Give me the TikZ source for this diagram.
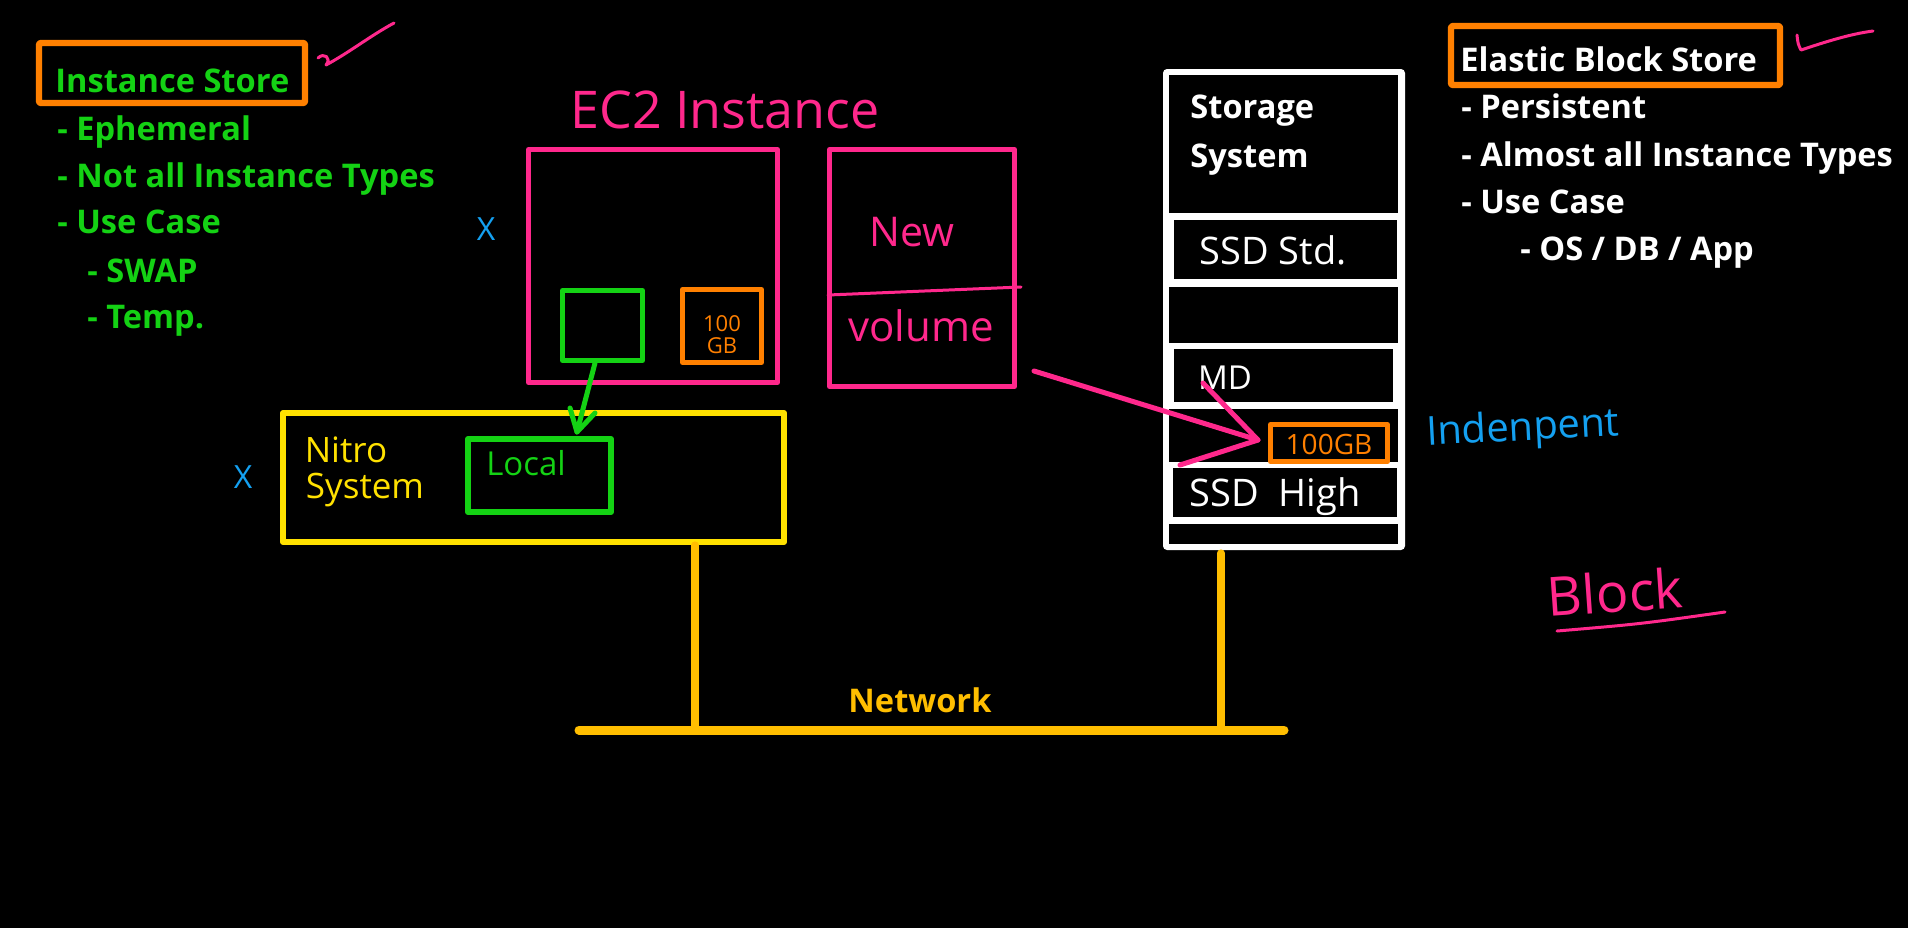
\documentclass[tikz,border=0pt]{standalone}
\usepackage{fontspec}
\setmainfont{Open Sans}
\newfontfamily\prt{Open Sans}
\newfontfamily\hnd{Open Sans}
\usetikzlibrary{fit}
\definecolor{cgreen}{RGB}{20,210,20}
\definecolor{corange}{RGB}{255,128,0}
\definecolor{cpink}{RGB}{255,40,140}
\definecolor{cyellow}{RGB}{255,225,0}
\definecolor{cgold}{RGB}{255,190,0}
\definecolor{cblue}{RGB}{20,160,240}
\begin{document}
\begin{tikzpicture}[x=0.5pt,y=-0.5pt,
  txt/.style={anchor=base west, inner sep=0, font={\prt\bfseries\fontsize{16.3pt}{20pt}\selectfont}},
  hand/.style={inner sep=0, font={\hnd\fontsize{#1}{#1}\selectfont}},
  hand/.default=18pt,
  frame/.style={inner sep=0, draw, line join=round},
  pen/.style={line width=2.5pt, line cap=round, line join=round},
  thinpen/.style={line width=1.5pt, line cap=round, line join=round},
  netline/.style={draw=cgold, line cap=round}
]
\path[use as bounding box, fill=black] (0,0) rectangle (1908,928);

% ---------- Instance Store list ----------
\node[frame, draw=corange, line width=3.2pt, rounded corners=1pt, fit={(39,43) (305,103)}] (isbox) {};
\node[txt, text=cgreen] (is0) at (55,92) {Instance Store};
\node[txt, text=cgreen] (is1) at (57,140) {- Ephemeral};
\node[txt, text=cgreen] (is2) at (57,187) {- Not all Instance Types};
\node[txt, text=cgreen] (is3) at (57,233) {- Use Case};
\node[txt, text=cgreen] (is4) at (87,282) {- SWAP};
\node[txt, text=cgreen] (is5) at (87,328) {- Temp.};
\draw[thinpen, cpink] (318,58) .. controls (324,52) and (332,58) .. (326,65)
   .. controls (350,52) and (370,36) .. (394,23);

% ---------- EBS list ----------
\node[frame, draw=corange, line width=3.2pt, rounded corners=1pt, fit={(1451,26) (1780,85)}] (ebsbox) {};
\node[txt, text=white] (e0) at (1460,71) {Elastic Block Store};
\node[txt, text=white] (e1) at (1461,118) {- Persistent};
\node[txt, text=white] (e2) at (1461,166) {- Almost all Instance Types};
\node[txt, text=white] (e3) at (1461,213) {- Use Case};
\node[txt, text=white] (e4) at (1520,260) {- OS / DB / App};
\draw[thinpen, cpink] (1797,35) .. controls (1798,44) .. (1801,50)
   .. controls (1825,42) and (1850,34) .. (1873,31);

% ---------- EC2 instance ----------
\node[hand=26pt, text=cpink] (ec2t) at (725,110) {EC2 Instance};
\node[frame, draw=cpink, line width=2.5pt, fit={(528.5,149.5) (777.5,382.5)}] (ec2) {};
\node[frame, draw=cgreen, line width=2.5pt, fit={(562.5,290.5) (642.5,360.5)}] (gbox) {};
\node[frame, draw=corange, line width=2.5pt, fit={(682.5,289.5) (761.5,362.5)}] (obox) {};
\node[hand=11pt, text=corange, align=center] (obt) at (722,335) {100\\GB};
\node[hand=16pt, text=cblue] (x1) at (486,229) {X};

% ---------- Volume ----------
\node[frame, draw=cpink, line width=2.5pt, fit={(829.5,149.5) (1014.5,386.5)}] (vol) {};
\coordinate (dv1) at (828,295);
\coordinate (dv2) at (1021,287);
\draw[thinpen, cpink] (dv1) -- (dv2);
\node[hand=20.5pt, text=cpink] (newt) at (912,232) {New};
\node[hand=21pt, text=cpink] (volt) at (921,326) {volume};

% ---------- Nitro system ----------
\node[frame, draw=cyellow, line width=3pt, fit={(283,413) (784,542)}] (nitro) {};
\node[hand=17.5pt, text=cyellow] (nit1) at (346,450) {Nitro};
\node[hand=17.5pt, text=cyellow] (nit2) at (365,490) {System};
\node[frame, draw=cgreen, line width=3pt, fit={(468,439) (611,512)}] (local) {};
\node[hand=16.5pt, text=cgreen] (loct) at (526,463) {Local};
\node[hand=16pt, text=cblue] (x2) at (243,477) {X};

% green arrow
\coordinate (gtip) at (577,432);
\draw[pen, cgreen] ([xshift=-3.75pt]gbox.south) -- (gtip);
\draw[pen, cgreen] (570,408) -- (gtip) -- (595,413);

% ---------- Storage system ----------
\fill[white, rounded corners=2pt] (1163,69) rectangle (1405,550);
\fill[black] (1169,75) rectangle (1398,213);
\fill[black] (1174,220) rectangle (1397,279);
\fill[black] (1169,287) rectangle (1398,343);
\fill[black] (1174,349) rectangle (1393,402);
\fill[black] (1169,409) rectangle (1398,462);
\fill[black] (1173,468) rectangle (1397,517);
\fill[black] (1169,524) rectangle (1398,544);
\node[txt, text=white] (st1) at (1190,118) {Storage};
\node[txt, text=white] (st2) at (1190,167) {System};
\node[hand=19pt, text=white] (ssd1) at (1273,250) {SSD Std.};
\node[hand=16.5pt, text=white] (md) at (1225,378) {MD};
\node[frame, draw=corange, line width=2.5pt, fit={(1270.5,424.5) (1387.5,461.5)}] (gbB) {};
\node[hand=14pt, text=corange] (gbt) at (1329,444) {100GB};
\node[hand=19pt, text=white] (ssd2) at (1275,497) {SSD\ \ High};

% pink arrow volume -> 100GB
\coordinate (pS) at (1034,371);
\coordinate (pT) at (1258,440);
\draw[pen, cpink] (pS) -- (pT);
\draw[pen, cpink] (1203,383) -- (pT) -- (1180,465);

% ---------- annotations ----------
\node[hand=20pt, text=cblue, rotate=3] (indep) at (1523,430) {Indenpent};
\node[hand=27pt, text=cpink, rotate=4] (block) at (1615,592) {Block};
\coordinate (ul1) at (1557,631);
\coordinate (ul2) at (1725,612);
\draw[thinpen, cpink] (ul1) .. controls (1640,624) .. (ul2);

% ---------- Network ----------
\coordinate (bar1) at (579,730);
\coordinate (bar2) at (1284,730);
\draw[netline, line width=4.5pt] (bar1) -- (bar2);
\draw[netline, line width=3.6pt] (nitro.south -| 695,0) -- (695,730);
\draw[netline, line width=3.6pt] (1221,553) -- (1221,730);
\node[anchor=base, inner sep=0, text=cgold, font={\prt\bfseries\fontsize{16.3pt}{20pt}\selectfont}] (net) at (920,712) {Network};
\end{tikzpicture}
\end{document}
